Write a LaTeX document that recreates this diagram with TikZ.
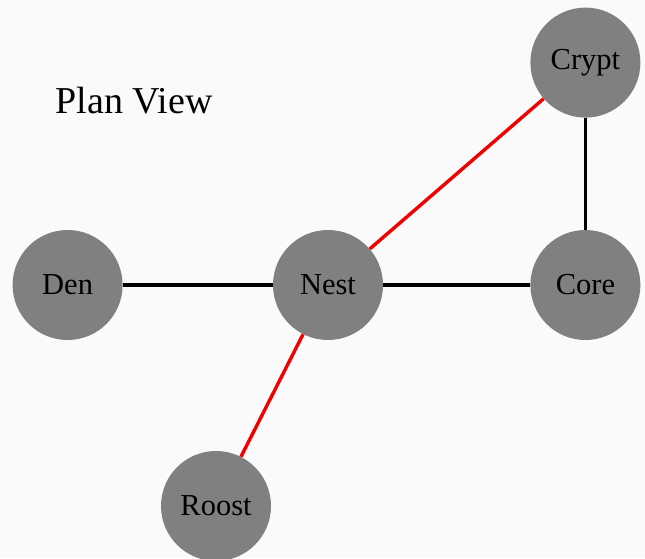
\documentclass[tikz,border=0pt]{standalone}
\usepackage{fontspec}
\setmainfont{Liberation Serif}
\usetikzlibrary{positioning}

\definecolor{bggray}{HTML}{FAFAFA}
\definecolor{roomgray}{HTML}{808080}
\definecolor{linkred}{HTML}{F00000}

\tikzset{
    room/.style={circle, fill=roomgray, minimum size=110pt, inner sep=0pt, text=black, font=\fontsize{30.5}{34}\selectfont},
    wall/.style={line width=3.4pt, black},
    path/.style={line width=3.4pt, linkred}
}

\begin{document}
\begin{tikzpicture}[x=1pt, y=-1pt, node distance=150pt]
        \fill[bggray] (0,0) rectangle (645,558);
        \useasboundingbox (0,0) rectangle (645,558);

        % Nodes
        \node (Nest) [room] at (328,285) {Nest};
        \node (Den) [room, left=150pt of Nest] {Den};
        \node (Core) [room, right=147pt of Nest] {Core};
        \node (Crypt) [room, above=112pt of Core] {Crypt};
        \node (Roost) [room] at (216,506) {Roost};

        \node (title) at (134,101) {\fontsize{38}{42}\selectfont Plan View};

        % Arrows
        \draw[wall] (Den) -- (Nest);
        \draw[wall] (Nest) -- (Core);
        \draw[wall] (Core) -- (Crypt);
        \draw[path] (Nest) -- (Crypt);
        \draw[path] (Nest) -- (Roost);
    \end{tikzpicture}
\end{document}
